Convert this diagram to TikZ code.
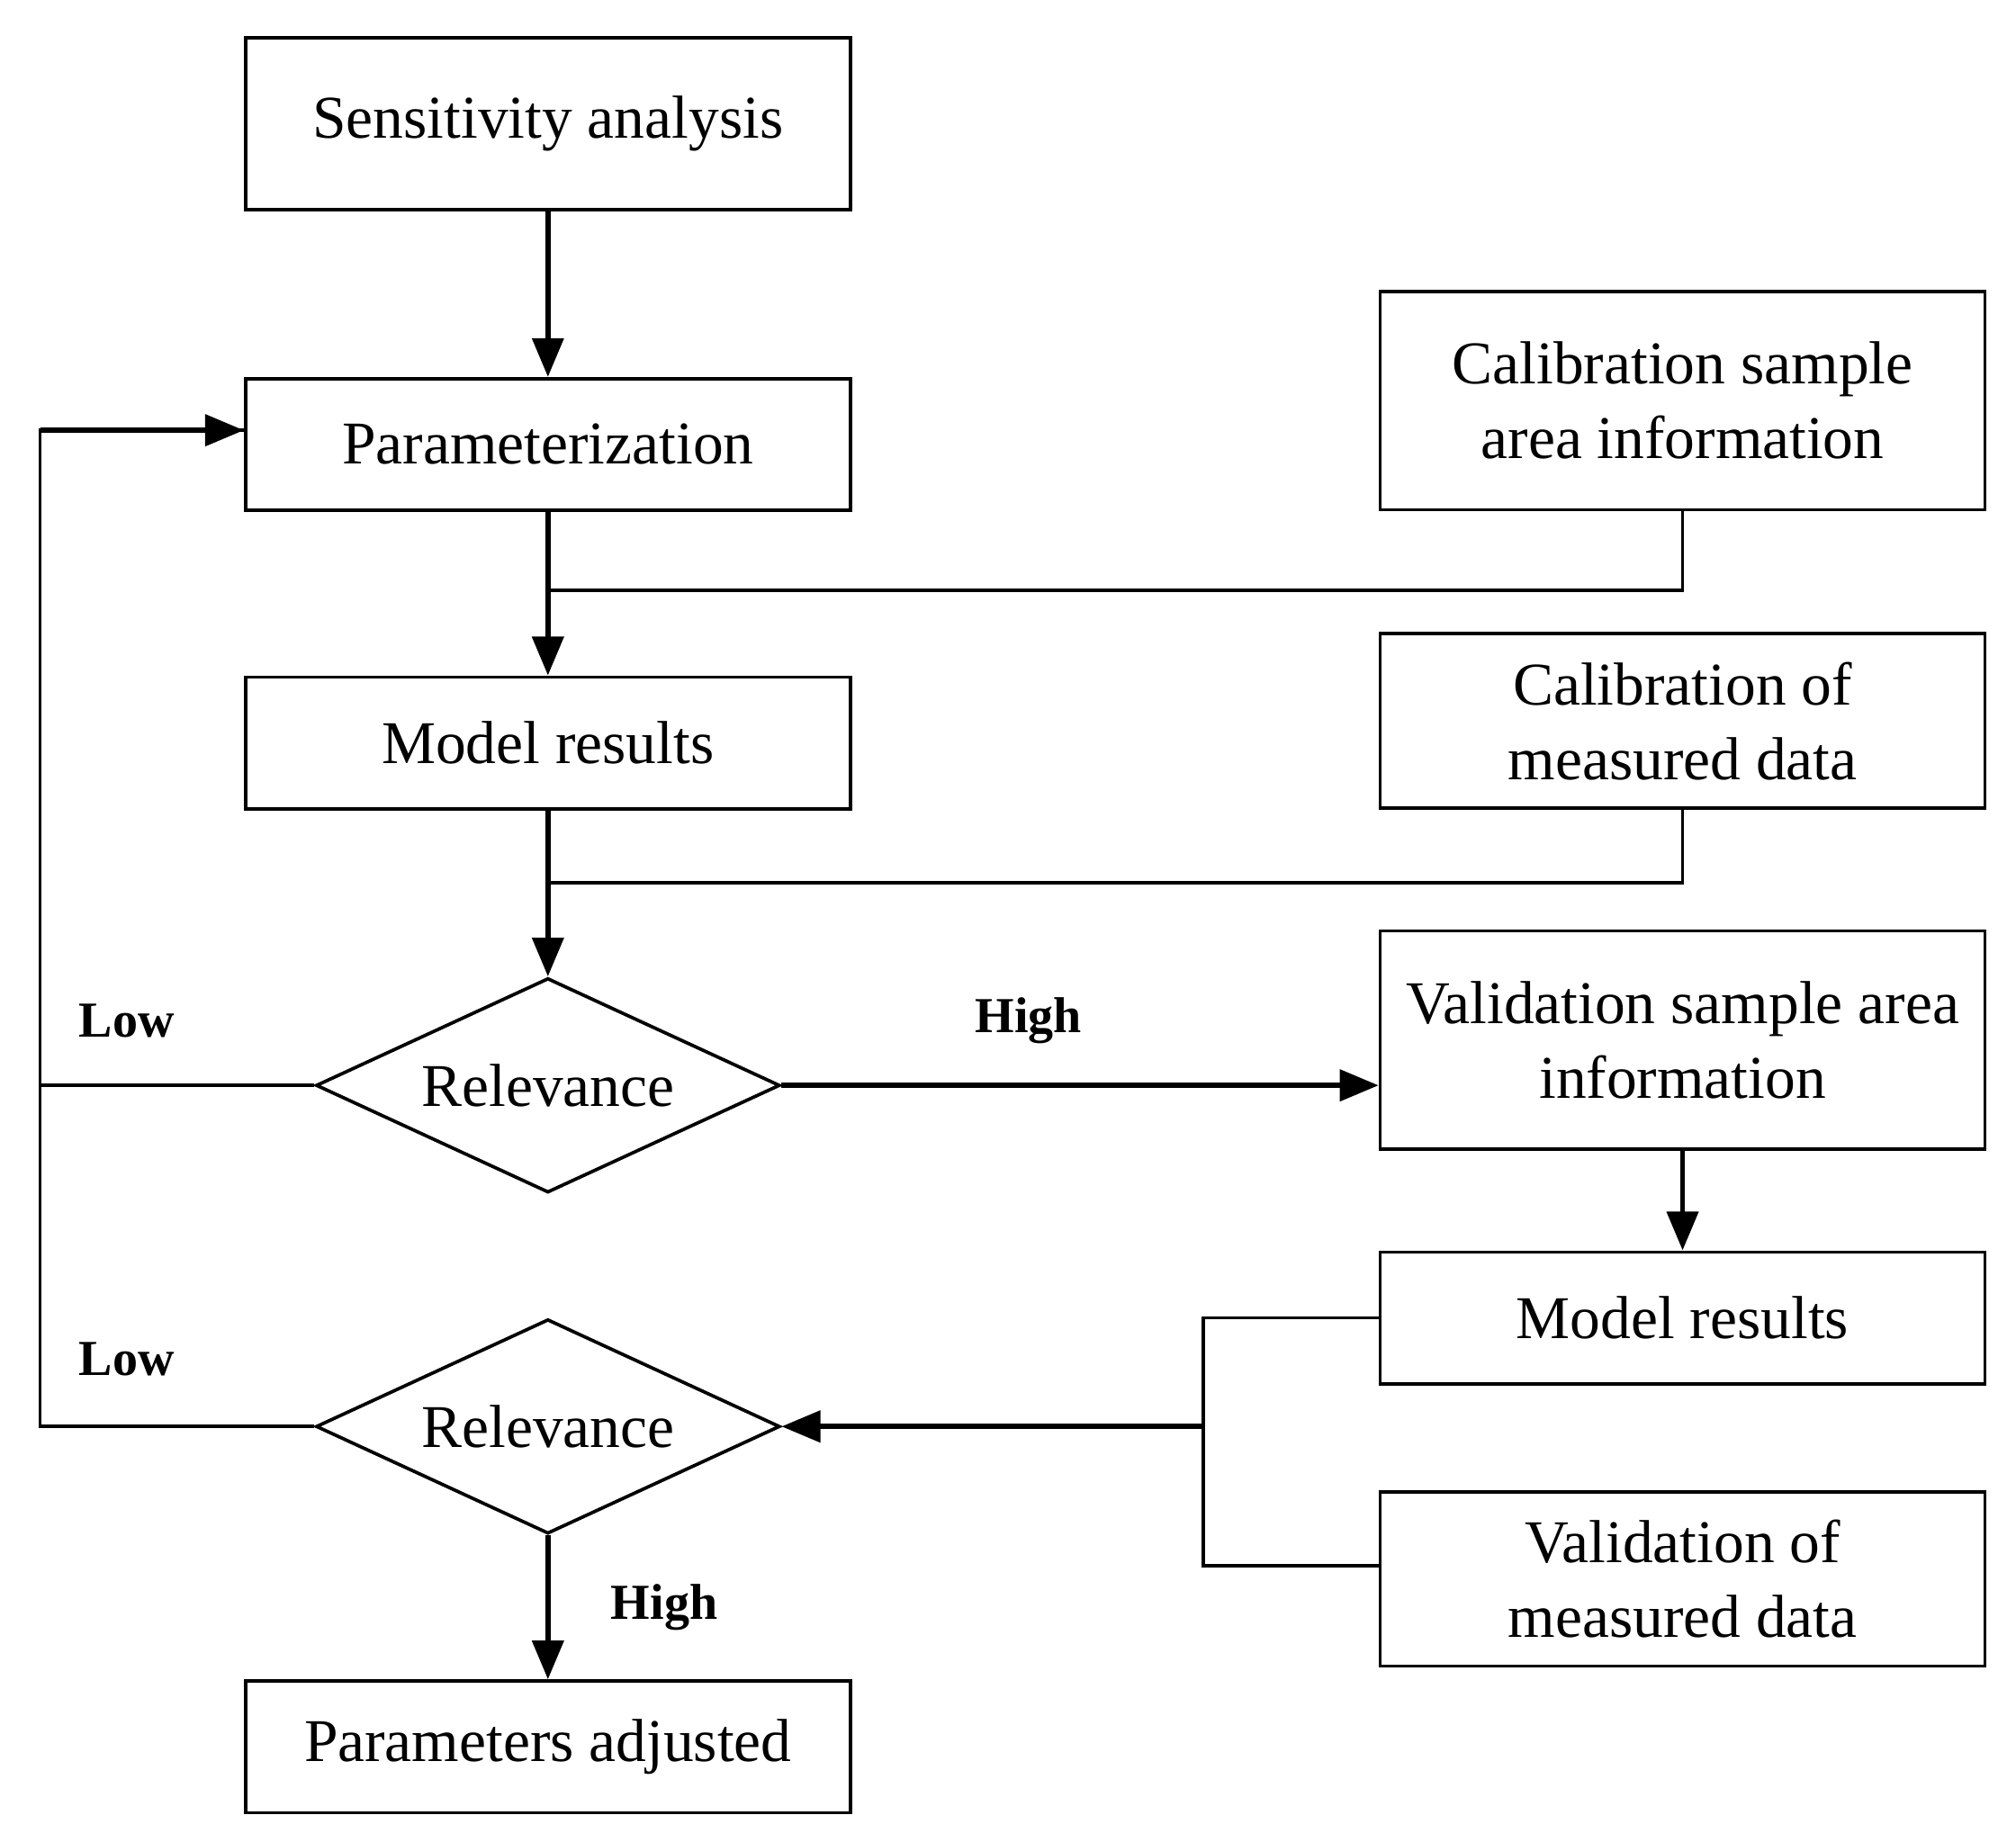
\documentclass[tikz,border=0pt]{standalone}
\usepackage{fontspec}
\setmainfont{Liberation Serif}
\usetikzlibrary{shapes.geometric,arrows.meta}
\begin{document}
\begin{tikzpicture}[x=0.5pt,y=-0.5pt,
  box/.style={draw,line width=1.3pt,minimum width=234pt,inner sep=0pt,align=center,font=\fontsize{23.5}{29}\selectfont},
  dia/.style={draw,line width=1.3pt,diamond,minimum width=179.5pt,minimum height=83pt,inner sep=0pt},
  dtxt/.style={font=\fontsize{23.5}{28}\selectfont},
  arr/.style={line width=2pt,-{Triangle[length=15pt,width=12pt]}},
  ln/.style={line width=1.3pt},
  lab/.style={font=\bfseries\fontsize{19.5}{23}\selectfont}]
\useasboundingbox (0,0) rectangle (1560,1418);
\node[box,minimum height=66.5pt] (sa) at (424,96) {Sensitivity analysis};
\node[box,minimum height=51pt] (pa) at (424,344) {Parameterization};
\node[box,minimum height=84.5pt] (cs) at (1302,310) {Calibration sample\\area information};
\node[box,minimum height=51pt] (mr) at (424,575) {Model results};
\node[box,minimum height=67.5pt] (cm) at (1302,558) {Calibration of\\measured data};
\node[dia] (r1) at (424,840) {};
\node[dtxt] at (r1) {Relevance};
\node[box,minimum height=84.5pt] (vs) at (1302,805) {Validation sample area\\information};
\node[box,minimum height=51pt] (mr2) at (1302,1020) {Model results};
\node[dia] (r2) at (424,1104) {};
\node[dtxt] at (r2) {Relevance};
\node[box,minimum height=67.5pt] (vm) at (1302,1222) {Validation of\\measured data};
\node[box,minimum height=51pt] (pad) at (424,1352) {Parameters adjusted};
\coordinate (j1) at (424,457);
\coordinate (j2) at (424,683);
\coordinate (lx) at (31,840);
\coordinate (vx) at (931,1104);
\draw[arr] (sa) -- (pa);
\draw[arr] (pa) -- (mr);
\draw[ln] (cs.south) |- (j1);
\draw[arr] (mr) -- (r1);
\draw[ln] (cm.south) |- (j2);
\draw[arr] (r1.east) -- (vs.west |- r1.east);
\draw[arr] (vs) -- (mr2);
\draw[arr] (r2) -- (pad);
\draw[ln] (r1.west) -- (lx) |- ([yshift=5.5pt]pa.west);
\draw[arr] (31,333) -- ([yshift=5.5pt]pa.west);
\draw[ln] (r2.west) -| (lx);
\draw[ln] (mr2.west) -| (vx) |- ([yshift=5pt]vm.west);
\draw[arr] (vx) -- (r2.east);
\node[lab] at (98,790) {Low};
\node[lab] at (796,790) {High};
\node[lab] at (98,1052) {Low};
\node[lab] at (514,1244) {High};
\end{tikzpicture}
\end{document}
